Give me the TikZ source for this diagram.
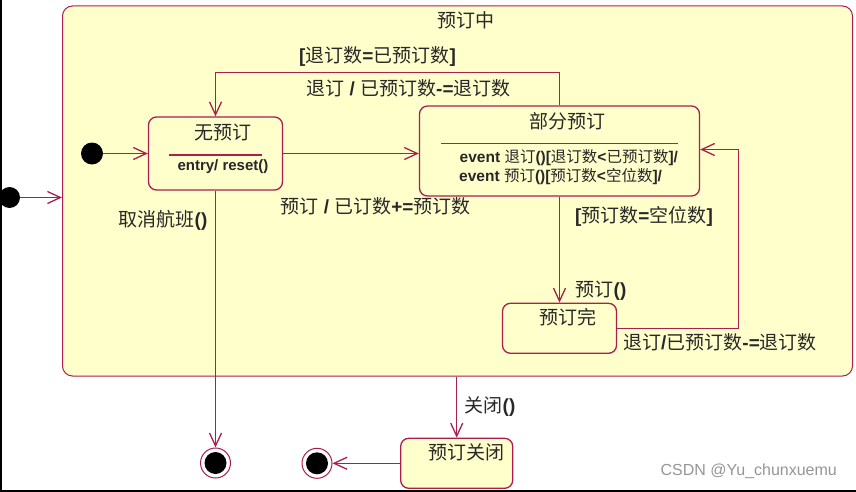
\documentclass[tikz,border=0pt]{standalone}
\usepackage{fontspec}
\setmainfont{Liberation Sans}
\newfontfamily\cjk{Noto Sans CJK SC}
\usetikzlibrary{arrows.meta}
\definecolor{crim}{RGB}{170,30,80}
\definecolor{stfill}{RGB}{255,255,204}
\definecolor{txt}{RGB}{40,40,40}
\definecolor{wm}{RGB}{150,150,150}
\newcommand\C[1]{{\cjk\mdseries #1}}
\begin{document}
\begin{tikzpicture}[x=1pt,y=-1pt,
  box/.style={rectangle, draw=crim, fill=stfill, rounded corners=8pt, line width=1.3pt, inner sep=0pt},
  arr/.style={draw=crim, line width=1.3pt, -{Straight Barb[length=13pt,width=12pt,line width=1.3pt]}},
  init/.style={circle, fill=black, inner sep=0pt, minimum size=22pt},
  fin/.style={circle, draw=crim, line width=1pt, fill=white, inner sep=0pt, minimum size=30pt,
    path picture={\fill[black] (path picture bounding box.center) circle (11pt);}},
  ttl/.style={font=\fontsize{19}{21}\selectfont\cjk, text=txt, inner sep=0pt},
  lbl/.style={font=\fontsize{19}{21}\selectfont\bfseries, text=txt, inner sep=0pt},
  evt/.style={font=\fontsize{15.5}{17}\selectfont\bfseries, text=txt, inner sep=0pt},
  sep/.style={draw=crim, line width=1.2pt},
]
\useasboundingbox (0,0) rectangle (856,492);
\fill[white] (0,0) rectangle (856,492);
\draw[black, line width=2pt] (1,0) -- (1,492);
\draw[black, line width=2pt] (0,491) -- (856,491);

% composite state
\node[box, line width=1pt, rounded corners=10pt, minimum width=790pt, minimum height=370pt] (outer) at (457.5,191) {};
\node[ttl] (outerT) at (465.5,20) {预订中};

% states
\node[box, minimum width=134pt, minimum height=73pt] (s1) at (215.5,153.5) {};
\node[ttl] (s1T) at (222.5,132.5) {无预订};
\draw[sep] (169,155) -- (262,155);
\node[evt, font=\fontsize{15}{17}\selectfont\bfseries] (s1E) at (223,167) {entry/ reset()};

\node[box, minimum width=280pt, minimum height=90pt] (s2) at (559.5,151) {};
\node[ttl] (s2T) at (567,121) {部分预订};
\draw[sep] (441,143.5) -- (678,143.5);
\node[evt, anchor=west] (s2E1) at (459.5,157.7) {event \C{退订}()[\C{退订数}<\C{已预订数}]/};
\node[evt, anchor=west] (s2E2) at (459,176.7) {event \C{预订}()[\C{预订数}<\C{空位数}]/};

\node[box, minimum width=114pt, minimum height=50pt] (s3) at (559.5,328.3) {};
\node[ttl] (s3T) at (568,317) {预订完};

\node[box, minimum width=112pt, minimum height=50pt] (s4) at (456.7,463.3) {};
\node[ttl] (s4T) at (466,452) {预订关闭};

% pseudo states
\node[init, minimum size=21pt] (i0) at (9.5,197.5) {};
\node[init] (i1) at (92,153.5) {};
\node[fin] (f1) at (215.5,463) {};
\node[fin] (f2) at (317,463.3) {};

% helper coordinates
\coordinate (top) at (0,72.5);
\coordinate (rc) at (738.5,149.5);

% transitions
\draw[arr] (i0) -- (i0 -| outer.west);
\draw[arr] (i1) -- (s1);
\draw[arr] (s1.east) -- (s1.east -| s2.west);
\draw[arr] (s2.north) |- (s1.north |- top) -- (s1.north);
\draw[arr] (s2.south) -- (s3.north);
\draw[arr] (s3.east) -| (rc) -- (rc -| s2.east);
\draw[arr] (s1.south) -- (f1.north);
\draw[arr] (s4 |- outer.south) -- (s4.north);
\draw[arr] (s4.west) -- (f2.east);

% labels
\node[lbl] (l1) at (377.5,56.5) {[\C{退订数}=\C{已预订数}]};
\node[lbl] (l2) at (408.5,88.3) {\C{退订} / \C{已预订数}-=\C{退订数}};
\node[lbl] (l3) at (375.5,206) {\C{预订} / \C{已订数}+=\C{预订数}};
\node[lbl] (l4) at (163,220) {\C{取消航班}()};
\node[lbl] (l5) at (644,216) {[\C{预订数}=\C{空位数}]};
\node[lbl] (l6) at (601,290.5) {\C{预订}()};
\node[lbl] (l7) at (720,342.5) {\C{退订}/\C{已预订数}-=\C{退订数}};
\node[lbl] (l8) at (490,407) {\C{关闭}()};

% watermark
\node[font=\fontsize{16}{18}\selectfont, text=wm, inner sep=0pt] (wmk) at (748.7,471.5) {CSDN @Yu\_chunxuemu};
\end{tikzpicture}
\end{document}
